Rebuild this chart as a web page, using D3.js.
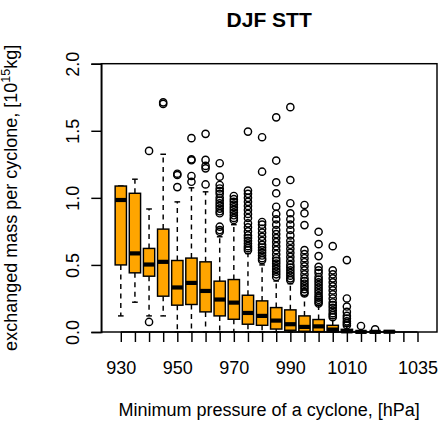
<!DOCTYPE html>
<html>
<head>
<meta charset="utf-8">
<script src="https://cdn.jsdelivr.net/npm/d3@7.9.0/dist/d3.min.js"></script>
<style>
  html, body { margin: 0; padding: 0; background: #fff; }
  svg text { font-family: "Liberation Sans", Arial, Helvetica, sans-serif; fill: #000; }
</style>
</head>
<body>
<svg id="chart" width="441" height="423"></svg>
<script>
// ---- data ----
const pressures = [930, 935, 940, 945, 950, 955, 960, 965, 970, 975, 980,
                   985, 990, 995, 1000, 1005, 1010, 1015, 1020, 1025, 1030, 1035];
const tickLabels = [930, 950, 970, 990, 1010, 1035];

// five-number summaries per pressure bin (null = empty bin)
const whiskLo = [0.12, 0.222, 0.12, 0.12, 0, 0, 0, 0, 0, 0, 0, 0, 0, 0, 0, 0, 0, 0, 0, 0, null, null];
const q1      = [0.50, 0.441, 0.416, 0.267, 0.20, 0.205, 0.15, 0.12, 0.095, 0.058, 0.05, 0.022, 0.013, 0.005, 0.003, 0.002, 0, 0, 0, 0, null, null];
const median  = [0.984, 0.586, 0.503, 0.523, 0.332, 0.366, 0.306, 0.242, 0.219, 0.142, 0.12, 0.085, 0.058, 0.038, 0.042, 0.018, 0.005, 0.001, 0.001, 0.002, null, null];
const q3      = [1.088, 1.034, 0.623, 0.767, 0.533, 0.551, 0.523, 0.379, 0.391, 0.274, 0.232, 0.182, 0.165, 0.12, 0.093, 0.05, 0.02, 0.004, 0.002, 0.005, null, null];
const whiskHi = [1.088, 1.139, 0.917, 1.325, 0.97, 1.075, 1.045, 0.71, 0.80, 0.585, 0.50, 0.38, 0.36, 0.27, 0.20, 0.10, 0.045, 0.008, 0.003, 0.005, null, null];

const outliers = [
  [],
  [],
  [0.075, 1.35],
  [1.70, 1.712],
  [1.08, 1.17, 1.18],
  [1.12, 1.163, 1.28, 1.287, 1.445],
  [1.10, 1.22, 1.238, 1.283, 1.477],
  [0.747, 0.76, 0.785, 0.885, 0.90, 0.92, 0.94, 0.96, 0.98, 1.0, 1.03, 1.05, 1.07, 1.096, 1.158, 1.258],
  [0.835, 0.85, 0.87, 0.89, 0.91, 0.93, 0.95, 0.97, 0.99, 1.014],
  [0.61, 0.625, 0.64, 0.66, 0.68, 0.70, 0.72, 0.75, 0.78, 0.81, 0.85, 0.88, 0.91, 0.94, 0.97, 1.0, 1.03, 1.054, 1.494],
  [0.536, 0.55, 0.57, 0.59, 0.61, 0.63, 0.65, 0.68, 0.71, 0.74, 0.77, 0.80, 0.82, 1.195, 1.452],
  [0.41, 0.43, 0.45, 0.47, 0.49, 0.51, 0.53, 0.55, 0.58, 0.61, 0.64, 0.67, 0.70, 0.73, 0.76, 0.80, 0.84, 0.88, 0.934, 1.034, 1.116, 1.278, 1.60],
  [0.386, 0.40, 0.42, 0.44, 0.46, 0.48, 0.50, 0.53, 0.56, 0.59, 0.62, 0.65, 0.68, 0.72, 0.76, 0.80, 0.84, 0.885, 0.96, 1.133, 1.676],
  [0.287, 0.30, 0.32, 0.34, 0.36, 0.38, 0.40, 0.43, 0.46, 0.49, 0.52, 0.55, 0.58, 0.61, 0.797, 0.885, 0.947],
  [0.212, 0.225, 0.24, 0.255, 0.27, 0.29, 0.31, 0.33, 0.35, 0.37, 0.39, 0.41, 0.44, 0.46, 0.486, 0.566, 0.655, 0.747],
  [0.11, 0.125, 0.14, 0.16, 0.18, 0.20, 0.22, 0.25, 0.28, 0.31, 0.34, 0.37, 0.40, 0.43, 0.46, 0.64],
  [0.05, 0.065, 0.08, 0.10, 0.12, 0.15, 0.19, 0.25, 0.536],
  [0.045],
  [0.02],
  [],
  [],
  []
];

const yTicks = [0, 0.5, 1.0, 1.5, 2.0];

// ---- layout ----
const svg = d3.select('#chart');
const plot = { left: 101.3, right: 437, top: 63.7, bottom: 332 };
const n = pressures.length;
const fs = 18;

// R-style: groups at 1..n, xlim (0.5, n+0.5) extended by 4%
const pad = 0.04 * n;
const x = d3.scaleLinear().domain([0.5 - pad, n + 0.5 + pad]).range([plot.left, plot.right]);
const y = d3.scaleLinear().domain([0, 2]).range([plot.bottom, plot.top]);

const lw = 1.45;
const boxW = x(1.8) - x(1);        // boxwex 0.8
const stapleW = boxW / 2;
const fill = '#FFA500';

const boxes = pressures.map((p, i) => ({
  p, i: i + 1, lo: whiskLo[i], q1: q1[i], med: median[i], q3: q3[i], hi: whiskHi[i], out: outliers[i]
}));

const g = svg.append('g');

boxes.filter(b => b.q1 !== null).forEach(b => {
  const cx = x(b.i);
  // whiskers
  g.append('line').attr('x1', cx).attr('x2', cx).attr('y1', y(b.q3)).attr('y2', y(b.hi))
    .attr('stroke', '#000').attr('stroke-width', lw).attr('stroke-dasharray', '5,4.5');
  g.append('line').attr('x1', cx).attr('x2', cx).attr('y1', y(b.q1)).attr('y2', y(b.lo))
    .attr('stroke', '#000').attr('stroke-width', lw).attr('stroke-dasharray', '5,4.5');
  // staples
  [b.hi, b.lo].forEach(v => {
    g.append('line').attr('x1', cx - stapleW / 2).attr('x2', cx + stapleW / 2)
      .attr('y1', y(v)).attr('y2', y(v)).attr('stroke', '#000').attr('stroke-width', lw);
  });
  // box
  g.append('rect').attr('x', cx - boxW / 2).attr('width', boxW)
    .attr('y', y(b.q3)).attr('height', Math.max(0, y(b.q1) - y(b.q3)))
    .attr('fill', fill).attr('stroke', '#000').attr('stroke-width', lw);
  // median
  g.append('line').attr('x1', cx - boxW / 2).attr('x2', cx + boxW / 2)
    .attr('y1', y(b.med)).attr('y2', y(b.med)).attr('stroke', '#000').attr('stroke-width', 4.2);
  // outliers
  g.selectAll(null).data(b.out).enter().append('circle')
    .attr('cx', cx).attr('cy', v => y(v)).attr('r', 3.6)
    .attr('fill', 'none').attr('stroke', '#000').attr('stroke-width', lw);
});

// frame
svg.append('rect')
  .attr('x', plot.left).attr('y', plot.top)
  .attr('width', plot.right - plot.left).attr('height', plot.bottom - plot.top)
  .attr('fill', 'none').attr('stroke', '#000').attr('stroke-width', lw);

// x axis
const xAxis = svg.append('g').attr('transform', `translate(0,${plot.bottom})`)
  .call(d3.axisBottom(x)
    .tickValues(d3.range(1, n + 1))
    .tickSize(10)
    .tickFormat(i => tickLabels.includes(pressures[i - 1]) ? pressures[i - 1] : ''));
xAxis.select('.domain').attr('d', `M${x(1)},0H${x(n)}`).attr('stroke-width', lw);
xAxis.selectAll('.tick line').attr('stroke-width', lw);
xAxis.selectAll('.tick text').attr('font-size', fs).attr('font-family', null).attr('dy', null).attr('y', 42);

// y axis
const yAxis = svg.append('g').attr('transform', `translate(${plot.left},0)`)
  .call(d3.axisLeft(y).tickValues(yTicks).tickSize(10).tickFormat(d3.format('.1f')));
yAxis.select('.domain').attr('stroke-width', lw);
yAxis.selectAll('.tick line').attr('stroke-width', lw);
yAxis.selectAll('.tick text')
  .attr('font-size', fs).attr('font-family', null)
  .attr('x', null).attr('dy', null)
  .attr('text-anchor', 'middle')
  .attr('transform', 'translate(-22,0) rotate(-90)');

// title
svg.append('text').attr('x', (plot.left + plot.right) / 2).attr('y', 27)
  .attr('text-anchor', 'middle').attr('font-size', 21).attr('font-weight', 'bold')
  .text('DJF STT');

// x label
svg.append('text').attr('x', (plot.left + plot.right) / 2).attr('y', 416)
  .attr('text-anchor', 'middle').attr('font-size', fs)
  .text('Minimum pressure of a cyclone, [hPa]');

// y label with superscript
const yl = svg.append('text')
  .attr('transform', `translate(17,${(plot.top + plot.bottom) / 2}) rotate(-90)`)
  .attr('text-anchor', 'middle').attr('font-size', fs);
yl.append('tspan').text('exchanged mass per cyclone, [10');
yl.append('tspan').attr('font-size', 12.5).attr('dy', -7).text('15');
yl.append('tspan').attr('dy', 7).text('kg]');
</script>
</body>
</html>
